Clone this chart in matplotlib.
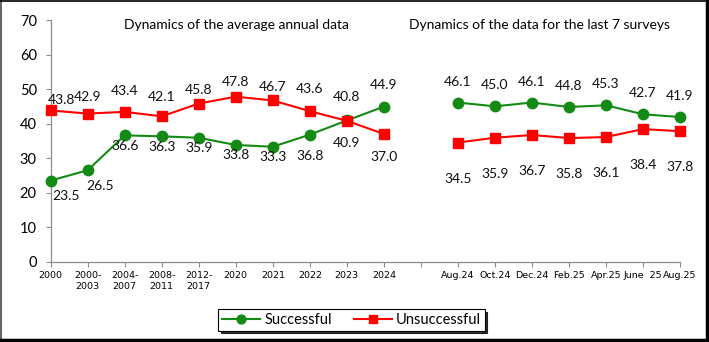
import numpy as np
import matplotlib
matplotlib.use("Agg")
import matplotlib.pyplot as plt
from matplotlib.lines import Line2D

# data
years = ['2000', '2000-\n2003', '2004-\n2007', '2008-\n2011', '2012-\n2017',
         '2020', '2021', '2022', '2023', '2024']
surveys = ['Aug.24', 'Oct.24', 'Dec.24', 'Feb.25', 'Apr.25', 'June  25', 'Aug.25']

succ_years = [23.5, 26.5, 36.6, 36.3, 35.9, 33.8, 33.3, 36.8, 40.9, 44.9]
unsucc_years = [43.8, 42.9, 43.4, 42.1, 45.8, 47.8, 46.7, 43.6, 40.8, 37.0]
succ_surveys = [46.1, 45.0, 46.1, 44.8, 45.3, 42.7, 41.9]
unsucc_surveys = [34.5, 35.9, 36.7, 35.8, 36.1, 38.4, 37.8]

# label offsets in pixels (dx, dy down) as placed in the original
succ_off = [(15, 15), (12, 16), (0, 11), (0, 11), (0, 10), (0, 10), (0, 10),
            (0, 21), (0, 23), (0, -22)] + [(0, -21)] * 7
unsucc_off = [(11, -10), (0, -17), (0, -21), (0, -19), (0, -14), (0, -15),
              (0, -13.5), (0, -22), (0, -24), (0, 23)] + [(0, 36)] * 7

green = '#138a13'
red = '#ff0000'
axcol = '#8c8c8c'
lab_font = 'Lato'

labels = years + [''] + surveys
nan = np.nan
succ = succ_years + [nan] + succ_surveys
unsucc = unsucc_years + [nan] + unsucc_surveys
x = np.arange(len(labels))

fig = plt.figure(figsize=(7.09, 3.42), dpi=100)
ax = fig.add_axes([50.7/709, 1-261.7/342, (680-50.7)/709, (261.7-20)/342])

ax.plot(x, succ, color=green, lw=1.5, marker='o', ms=7.5, mfc=green, mec=green,
        label='Successful', clip_on=False, zorder=3)
ax.plot(x, unsucc, color=red, lw=1.5, marker='s', ms=7, mfc=red, mec=red,
        label='Unsuccessful', clip_on=False, zorder=3)

def put_labels(vals, offs):
    xi = [i for i in x if not np.isnan(vals[i])]
    for i, (dx, dy) in zip(xi, offs):
        ax.annotate('%.1f' % vals[i], (i, vals[i]), xytext=(dx*0.72, -dy*0.72),
                    textcoords='offset points', ha='center', va='center',
                    fontsize=10, family=lab_font, color='#111111', zorder=5)

put_labels(succ, succ_off)
put_labels(unsucc, unsucc_off)

ax.set_xlim(0, len(labels)-1)
ax.set_ylim(0, 70)
ax.set_yticks(range(0, 71, 10))
ax.set_xticks(x)
ax.set_xticklabels(labels, fontsize=6.8, family='DejaVu Sans', linespacing=1.3)
for t in ax.get_yticklabels():
    t.set_family(lab_font)
    t.set_fontsize(10.5)
ax.tick_params(axis='y', length=3.5, color=axcol, pad=6.5, width=0.8)
ax.tick_params(axis='x', length=3.5, color=axcol, pad=3, width=0.8)
for s in ['top', 'right']:
    ax.spines[s].set_visible(False)
for s in ['left', 'bottom']:
    ax.spines[s].set_color(axcol)
    ax.spines[s].set_linewidth(0.9)

fig.text(236/709, 1-25/342, 'Dynamics of the average annual data',
         ha='center', va='center', fontsize=10, family=lab_font)
fig.text(539.5/709, 1-25/342, 'Dynamics of the data for the last 7 surveys',
         ha='center', va='center', fontsize=10, family=lab_font)

leg = fig.legend(loc='center', bbox_to_anchor=(351.5/709, 1-320/342), ncol=2,
                 frameon=True, fancybox=False, shadow={'color': 'black', 'alpha': 0.8},
                 edgecolor='black', framealpha=1, handlelength=2.6, markerscale=0.85,
                 columnspacing=1.5, handletextpad=0.3, borderpad=0.25,
                 borderaxespad=0, prop={'family': lab_font, 'size': 10.5})
leg.get_frame().set_linewidth(0.8)

# outer frame with a shadow on the right and bottom
fig.add_artist(Line2D([0.002, 0.002], [0, 1], color='#666666', lw=1.5, transform=fig.transFigure))
fig.add_artist(Line2D([0, 1], [0.998, 0.998], color='black', lw=1.2, transform=fig.transFigure))
fig.add_artist(Line2D([0.9965, 0.9965], [0, 1], color='black', lw=2.5, transform=fig.transFigure))
fig.add_artist(Line2D([0, 1], [0.005, 0.005], color='black', lw=2.5, transform=fig.transFigure))

fig.savefig('out.png', dpi=100)
